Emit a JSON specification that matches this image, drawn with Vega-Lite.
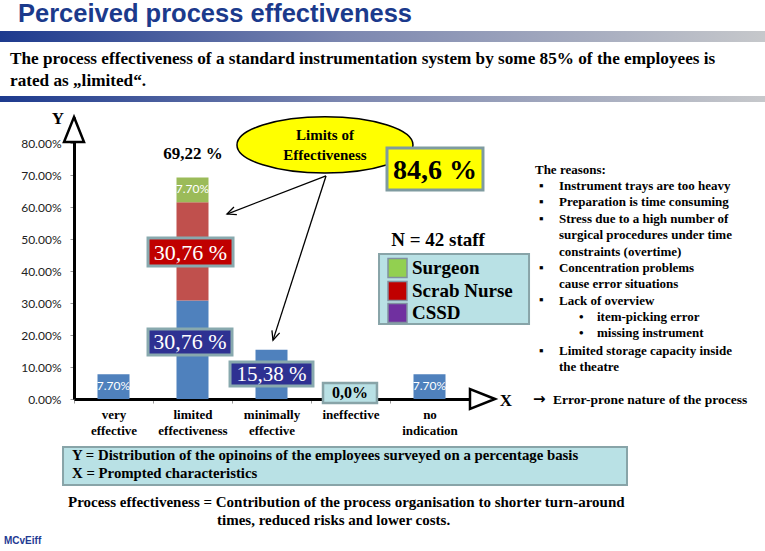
{
"$schema":"https://vega.github.io/schema/vega-lite/v6.json",
"width":395,"height":282,
"autosize":{"type":"none"},
"padding":{"left":74,"top":117,"right":296,"bottom":152},
"background":"white",
"config":{"view":{"stroke":null},"text":{"font":"Liberation Serif","fontWeight":"bold","color":"black","fontSize":13}},
"data":{"values":[{}]},
"resolve":{"scale":{"x":"independent"},"axis":{"y":"independent"}},
"layer":[
{
"data":{"values":[
{"category":"very effective","role":"CSSD","value":0.077},
{"category":"limited effectiveness","role":"CSSD","value":0.3076},
{"category":"limited effectiveness","role":"Scrab Nurse","value":0.3076},
{"category":"limited effectiveness","role":"Surgeon","value":0.077},
{"category":"minimally effective","role":"CSSD","value":0.1538},
{"category":"ineffective","role":"CSSD","value":0},
{"category":"no indication","role":"CSSD","value":0.077}
]},
"transform":[{"stack":"value","groupby":["category"],"sort":[{"field":"role","order":"ascending"}],"as":["v0","v1"]}],
"layer":[
{"mark":{"type":"bar","width":32},
"encoding":{
"x":{"field":"category","type":"nominal","sort":["very effective","limited effectiveness","minimally effective","ineffective","no indication"],"scale":{"paddingInner":0,"paddingOuter":0},
"axis":{"title":null,"labelExpr":"split(datum.label, ' ')","labelFont":"Liberation Serif","labelFontWeight":"bold","labelFontSize":13,"labelColor":"black","labelLineHeight":16,"labelAngle":0,"labelOverlap":false,"domainColor":"black","domainWidth":3,"tickBand":"extent","tickSize":4,"tickColor":"#999999","labelPadding":5}},
"y":{"field":"v1","type":"quantitative","stack":null,"scale":{"domain":[0,0.88125],"nice":false,"zero":false},
"axis":{"title":null,"values":[0,0.1,0.2,0.3,0.4,0.5,0.6,0.7,0.8],"tickCount":9,"format":".2%","labelFont":"Lato","labelFontSize":12,"labelColor":"#222222","labelOverlap":false,"labelBound":false,"domainColor":"black","domainWidth":3,"tickSize":4,"tickColor":"#999999","labelPadding":9,"grid":false}},
"y2":{"field":"v0"},
"color":{"field":"role","type":"nominal","scale":{"domain":["Surgeon","Scrab Nurse","CSSD"],"range":["#9BBB59","#C0504D","#4F81BD"]},"legend":null}
}},
{"transform":[{"filter":"datum.value == 0.077"}],
"mark":{"type":"text","font":"Lato","fontWeight":"normal","fontSize":12,"color":"white","baseline":"middle","dy":12},
"encoding":{
"x":{"field":"category","type":"nominal","sort":["very effective","limited effectiveness","minimally effective","ineffective","no indication"]},
"y":{"field":"v1","type":"quantitative","stack":null,
"axis":{"title":null,"values":[0,0.1,0.2,0.3,0.4,0.5,0.6,0.7,0.8],"tickCount":9,"format":".2%","labelFont":"Lato","labelFontSize":12,"labelColor":"#222222","labelOverlap":false,"labelBound":false,"domainColor":"black","domainWidth":3,"tickSize":4,"tickColor":"#999999","labelPadding":9,"grid":false}},
"text":{"field":"value","format":".2%"}
}}
]
},
{
"layer":[
{"mark":{"type":"rect","fill":{"gradient":"linear","x1":0,"y1":0,"x2":1,"y2":0,"stops":[{"offset":0,"color":"#1D3A8E"},{"offset":0.45,"color":"#7C87B0"},{"offset":1,"color":"#C6C8CB"}]}},
"encoding":{"x":{"datum":-0.937,"type":"quantitative","axis":null,"scale":{"domain":[0,5],"nice":false,"zero":false}},"x2":{"datum":8.747},"y":{"datum":1.15,"type":"quantitative","axis":null},"y2":{"datum":1.1156}}},
{"mark":{"type":"rect","fill":{"gradient":"linear","x1":0,"y1":0,"x2":1,"y2":0,"stops":[{"offset":0,"color":"#1D3A8E"},{"offset":0.45,"color":"#7C87B0"},{"offset":1,"color":"#C6C8CB"}]}},
"encoding":{"x":{"datum":-0.937,"type":"quantitative","axis":null},"x2":{"datum":8.747},"y":{"datum":0.9469,"type":"quantitative","axis":null},"y2":{"datum":0.9281}}},
{"mark":{"type":"text","text":"Perceived process effectiveness","font":"Liberation Sans","fontSize":25.5,"color":"#1B3A8C","align":"left","baseline":"alphabetic"},
"encoding":{"x":{"datum":-0.709,"type":"quantitative","axis":null},"y":{"datum":1.178,"type":"quantitative","axis":null}}},
{"mark":{"type":"text","text":["The process effectiveness of a standard instrumentation system by some 85% of the employees is","rated as „limited“."],"fontSize":17.2,"lineHeight":22,"align":"left","baseline":"alphabetic"},
"encoding":{"x":{"datum":-0.81,"type":"quantitative","axis":null},"y":{"datum":1.0484,"type":"quantitative","axis":null}}},
{"mark":{"type":"point","shape":"M0,0 L0.8,2 L-0.8,2 Z","size":625,"filled":true,"fill":"white","stroke":"black","strokeWidth":2.5,"opacity":1},
"encoding":{"x":{"datum":0,"type":"quantitative","axis":null},"y":{"datum":0.88125,"type":"quantitative","axis":null}}},
{"mark":{"type":"point","shape":"M0,0 L-2,-0.8 L-2,0.8 Z","size":625,"filled":true,"fill":"white","stroke":"black","strokeWidth":2.5,"opacity":1},
"encoding":{"x":{"datum":5.329,"type":"quantitative","axis":null},"y":{"datum":0,"type":"quantitative","axis":null}}},
{"mark":{"type":"text","text":"Y","fontSize":17,"baseline":"alphabetic"},
"encoding":{"x":{"datum":-0.2025,"type":"quantitative","axis":null},"y":{"datum":0.859,"type":"quantitative","axis":null}}},
{"mark":{"type":"text","text":"X","fontSize":17,"baseline":"alphabetic"},
"encoding":{"x":{"datum":5.468,"type":"quantitative","axis":null},"y":{"datum":-0.0219,"type":"quantitative","axis":null}}},
{"mark":{"type":"text","text":"69,22 %","fontSize":17,"baseline":"alphabetic"},
"encoding":{"x":{"datum":1.506,"type":"quantitative","axis":null},"y":{"datum":0.75,"type":"quantitative","axis":null}}},
{"mark":{"type":"point","shape":"M-1,0 A1,0.32 0 1,1 1,0 A1,0.32 0 1,1 -1,0 Z","size":30976,"filled":true,"fill":"#FFFF00","stroke":"black","strokeWidth":1.5,"opacity":1},
"encoding":{"x":{"datum":3.177,"type":"quantitative","axis":null},"y":{"datum":0.794,"type":"quantitative","axis":null}}},
{"mark":{"type":"text","text":["Limits of","Effectiveness"],"fontSize":15,"lineHeight":20,"baseline":"alphabetic"},
"encoding":{"x":{"datum":3.177,"type":"quantitative","axis":null},"y":{"datum":0.809,"type":"quantitative","axis":null}}},
{"mark":{"type":"rule","color":"black","strokeWidth":1.3},
"encoding":{"x":{"datum":3.19,"type":"quantitative","axis":null},"y":{"datum":0.697,"type":"quantitative","axis":null},"x2":{"datum":1.937},"y2":{"datum":0.578}}},
{"mark":{"type":"rule","color":"black","strokeWidth":1.3},
"encoding":{"x":{"datum":3.19,"type":"quantitative","axis":null},"y":{"datum":0.697,"type":"quantitative","axis":null},"x2":{"datum":2.519},"y2":{"datum":0.184}}},
{"mark":{"type":"point","shape":"M-0.45,1 L0,0 L0.45,1","size":324,"filled":false,"stroke":"black","strokeWidth":1.3,"angle":249,"opacity":1},
"encoding":{"x":{"datum":1.937,"type":"quantitative","axis":null},"y":{"datum":0.578,"type":"quantitative","axis":null}}},
{"mark":{"type":"point","shape":"M-0.45,1 L0,0 L0.45,1","size":324,"filled":false,"stroke":"black","strokeWidth":1.3,"angle":198,"opacity":1},
"encoding":{"x":{"datum":2.519,"type":"quantitative","axis":null},"y":{"datum":0.184,"type":"quantitative","axis":null}}},
{"mark":{"type":"rect","fill":"#FFFF00","stroke":"#7F9BA0","strokeWidth":3},
"encoding":{"x":{"datum":3.962,"type":"quantitative","axis":null},"x2":{"datum":5.177},"y":{"datum":0.784,"type":"quantitative","axis":null},"y2":{"datum":0.653}}},
{"mark":{"type":"text","text":"84,6 %","fontSize":28,"baseline":"alphabetic"},
"encoding":{"x":{"datum":4.57,"type":"quantitative","axis":null},"y":{"datum":0.6875,"type":"quantitative","axis":null}}},
{"mark":{"type":"rect","fill":"#C00000","stroke":"#88A9AE","strokeWidth":3},
"encoding":{"x":{"datum":0.937,"type":"quantitative","axis":null},"x2":{"datum":2.013},"y":{"datum":0.5031,"type":"quantitative","axis":null},"y2":{"datum":0.4156}}},
{"mark":{"type":"text","text":"30,76 %","fontWeight":"normal","fontSize":22,"color":"white","baseline":"alphabetic"},
"encoding":{"x":{"datum":1.475,"type":"quantitative","axis":null},"y":{"datum":0.4359,"type":"quantitative","axis":null}}},
{"mark":{"type":"rect","fill":"#2E3192","stroke":"#88A9AE","strokeWidth":3},
"encoding":{"x":{"datum":0.937,"type":"quantitative","axis":null},"x2":{"datum":2.0},"y":{"datum":0.21875,"type":"quantitative","axis":null},"y2":{"datum":0.1375}}},
{"mark":{"type":"text","text":"30,76 %","fontWeight":"normal","fontSize":22,"color":"white","baseline":"alphabetic"},
"encoding":{"x":{"datum":1.468,"type":"quantitative","axis":null},"y":{"datum":0.1547,"type":"quantitative","axis":null}}},
{"mark":{"type":"rect","fill":"#2E3192","stroke":"#88A9AE","strokeWidth":3},
"encoding":{"x":{"datum":1.975,"type":"quantitative","axis":null},"x2":{"datum":3.025},"y":{"datum":0.1156,"type":"quantitative","axis":null},"y2":{"datum":0.0406}}},
{"mark":{"type":"text","text":"15,38 %","fontWeight":"normal","fontSize":21,"color":"white","baseline":"alphabetic"},
"encoding":{"x":{"datum":2.5,"type":"quantitative","axis":null},"y":{"datum":0.0547,"type":"quantitative","axis":null}}},
{"mark":{"type":"rect","fill":"#B9E1E5","stroke":"#88A4A8","strokeWidth":2.5},
"encoding":{"x":{"datum":3.152,"type":"quantitative","axis":null},"x2":{"datum":3.835},"y":{"datum":0.05,"type":"quantitative","axis":null},"y2":{"datum":-0.0125}}},
{"mark":{"type":"text","text":"0,0%","fontSize":16,"baseline":"alphabetic"},
"encoding":{"x":{"datum":3.494,"type":"quantitative","axis":null},"y":{"datum":0.0016,"type":"quantitative","axis":null}}},
{"mark":{"type":"text","text":"N = 42 staff","fontSize":19,"baseline":"alphabetic"},
"encoding":{"x":{"datum":4.608,"type":"quantitative","axis":null},"y":{"datum":0.478,"type":"quantitative","axis":null}}},
{"mark":{"type":"rect","fill":"#B9E1E5","stroke":"#88A4A8","strokeWidth":2},
"encoding":{"x":{"datum":3.861,"type":"quantitative","axis":null},"x2":{"datum":5.76},"y":{"datum":0.453,"type":"quantitative","axis":null},"y2":{"datum":0.234}}},
{"mark":{"type":"point","shape":"square","size":361,"filled":true,"fill":"#92D050","stroke":"#8090A0","strokeWidth":1.5,"opacity":1},
"encoding":{"x":{"datum":4.095,"type":"quantitative","axis":null},"y":{"datum":0.409,"type":"quantitative","axis":null}}},
{"mark":{"type":"point","shape":"square","size":361,"filled":true,"fill":"#C00000","stroke":"#8090A0","strokeWidth":1.5,"opacity":1},
"encoding":{"x":{"datum":4.095,"type":"quantitative","axis":null},"y":{"datum":0.3375,"type":"quantitative","axis":null}}},
{"mark":{"type":"point","shape":"square","size":361,"filled":true,"fill":"#7030A0","stroke":"#8090A0","strokeWidth":1.5,"opacity":1},
"encoding":{"x":{"datum":4.095,"type":"quantitative","axis":null},"y":{"datum":0.269,"type":"quantitative","axis":null}}},
{"mark":{"type":"text","text":["Surgeon","Scrab Nurse","CSSD"],"fontSize":19,"lineHeight":22.5,"align":"left","baseline":"alphabetic"},
"encoding":{"x":{"datum":4.278,"type":"quantitative","axis":null},"y":{"datum":0.3906,"type":"quantitative","axis":null}}},
{"mark":{"type":"text","text":"The reasons:","align":"left","baseline":"alphabetic"},
"encoding":{"x":{"datum":5.835,"type":"quantitative","axis":null},"y":{"datum":0.7016,"type":"quantitative","axis":null}}},
{"mark":{"type":"text","text":["▪","▪","▪"],"lineHeight":16.4,"align":"left","baseline":"alphabetic"},
"encoding":{"x":{"datum":5.886,"type":"quantitative","axis":null},"y":{"datum":0.6531,"type":"quantitative","axis":null}}},
{"mark":{"type":"text","text":"▪","align":"left","baseline":"alphabetic"},
"encoding":{"x":{"datum":5.886,"type":"quantitative","axis":null},"y":{"datum":0.3984,"type":"quantitative","axis":null}}},
{"mark":{"type":"text","text":"▪","align":"left","baseline":"alphabetic"},
"encoding":{"x":{"datum":5.886,"type":"quantitative","axis":null},"y":{"datum":0.2984,"type":"quantitative","axis":null}}},
{"mark":{"type":"text","text":"▪","align":"left","baseline":"alphabetic"},
"encoding":{"x":{"datum":5.886,"type":"quantitative","axis":null},"y":{"datum":0.139,"type":"quantitative","axis":null}}},
{"mark":{"type":"text","text":["Instrument trays are too heavy","Preparation is time consuming","Stress due to a high number of","surgical procedures under time","constraints (overtime)","Concentration problems","cause error situations","Lack of overview"],"lineHeight":16.4,"align":"left","baseline":"alphabetic"},
"encoding":{"x":{"datum":6.139,"type":"quantitative","axis":null},"y":{"datum":0.6531,"type":"quantitative","axis":null}}},
{"mark":{"type":"text","text":["Limited storage capacity inside","the theatre"],"lineHeight":16.4,"align":"left","baseline":"alphabetic"},
"encoding":{"x":{"datum":6.139,"type":"quantitative","axis":null},"y":{"datum":0.139,"type":"quantitative","axis":null}}},
{"mark":{"type":"text","text":["•","•"],"lineHeight":16.4,"align":"left","baseline":"alphabetic"},
"encoding":{"x":{"datum":6.392,"type":"quantitative","axis":null},"y":{"datum":0.2453,"type":"quantitative","axis":null}}},
{"mark":{"type":"text","text":["item-picking error","missing instrument"],"lineHeight":16.4,"align":"left","baseline":"alphabetic"},
"encoding":{"x":{"datum":6.62,"type":"quantitative","axis":null},"y":{"datum":0.2453,"type":"quantitative","axis":null}}},
{"mark":{"type":"text","text":"→","font":"DejaVu Sans","fontSize":15,"align":"left","baseline":"alphabetic"},
"encoding":{"x":{"datum":5.81,"type":"quantitative","axis":null},"y":{"datum":-0.0141,"type":"quantitative","axis":null}}},
{"mark":{"type":"text","text":"Error-prone nature of the process","fontSize":13.5,"align":"left","baseline":"alphabetic"},
"encoding":{"x":{"datum":6.063,"type":"quantitative","axis":null},"y":{"datum":-0.0141,"type":"quantitative","axis":null}}},
{"mark":{"type":"rect","fill":"#B9E1E5","stroke":"#88A4A8","strokeWidth":2},
"encoding":{"x":{"datum":-0.139,"type":"quantitative","axis":null},"x2":{"datum":7.0},"y":{"datum":-0.15,"type":"quantitative","axis":null},"y2":{"datum":-0.269}}},
{"mark":{"type":"text","text":["Y = Distribution of the opinoins of the employees surveyed on a percentage basis","X = Prompted characteristics"],"fontSize":14.8,"lineHeight":18,"align":"left","baseline":"alphabetic"},
"encoding":{"x":{"datum":-0.025,"type":"quantitative","axis":null},"y":{"datum":-0.1906,"type":"quantitative","axis":null}}},
{"mark":{"type":"text","text":"Process effectiveness = Contribution of the process organisation to shorter turn-around","fontSize":15,"align":"left","baseline":"alphabetic"},
"encoding":{"x":{"datum":-0.076,"type":"quantitative","axis":null},"y":{"datum":-0.3375,"type":"quantitative","axis":null}}},
{"mark":{"type":"text","text":"times, reduced risks and lower costs.","fontSize":15,"align":"left","baseline":"alphabetic"},
"encoding":{"x":{"datum":1.81,"type":"quantitative","axis":null},"y":{"datum":-0.3938,"type":"quantitative","axis":null}}},
{"mark":{"type":"text","text":"MCvEiff","font":"Liberation Sans","fontSize":10,"color":"#1F3A93","align":"left","baseline":"alphabetic"},
"encoding":{"x":{"datum":-0.886,"type":"quantitative","axis":null},"y":{"datum":-0.453,"type":"quantitative","axis":null}}}
]
}
]
}
